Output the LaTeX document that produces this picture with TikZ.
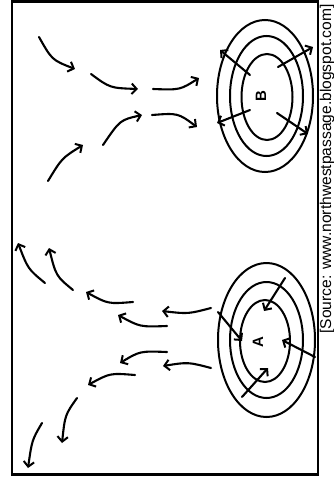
\documentclass[tikz,border=0pt]{standalone}
\usepackage{fontspec}
\setmainfont{Liberation Sans}
\usetikzlibrary{arrows.meta}
\tikzset{
  flow/.style={line width=2.1pt, line cap=round, -{Straight Barb[length=5pt,width=10.5pt,line width=2pt]}},
  ring/.style={line width=2pt},
  frame/.style={line width=2.8pt},
  letter/.style={font=\fontsize{15}{15}\selectfont\bfseries, rotate=90, inner sep=0pt},
  srcnote/.style={font=\fontsize{15.6}{16}\selectfont, rotate=90, inner sep=0pt}
}
\begin{document}
\begin{tikzpicture}[x=1pt,y=-1pt]
\useasboundingbox (0,0) rectangle (334,477);
\fill[white] (0,0) rectangle (334,477);
\draw[frame] (12,1.5) rectangle (318,474.5);

% pressure systems
\coordinate (Bc) at (266,96);
\coordinate (Ac) at (266,341);
\draw[ring] (265,96) ellipse [x radius=48, y radius=76];
\draw[ring] (266.5,96) ellipse [x radius=36.5, y radius=60];
\draw[ring] (267,97) ellipse [x radius=25.5, y radius=43];
\draw[ring] (266.5,340) ellipse [x radius=48.5, y radius=77];
\draw[ring] (266.5,340) ellipse [x radius=36.5, y radius=58];
\draw[ring] (265,341) ellipse [x radius=25, y radius=41];

\node[letter] (B) at (261,96) {B};
\node[letter] (A) at (258,342) {A};

% arrows of B (outward)
\coordinate (b1s) at (250,75);  \coordinate (b1e) at (220,50);
\coordinate (b2s) at (278,67);  \coordinate (b2e) at (313,47);
\coordinate (b3s) at (250,110); \coordinate (b3e) at (217,123);
\coordinate (b4s) at (277,113); \coordinate (b4e) at (308,134);
\draw[flow] (b1s) -- (b1e);
\draw[flow] (b2s) -- (b2e);
\draw[flow] (b3s) -- (b3e);
\draw[flow] (b4s) -- (b4e);

% arrows of A (inward)
\coordinate (a1s) at (285,278); \coordinate (a1e) at (264,311);
\coordinate (a2s) at (218,312); \coordinate (a2e) at (242,341);
\coordinate (a3s) at (315,357); \coordinate (a3e) at (282,340);
\coordinate (a4s) at (242,397); \coordinate (a4e) at (268,368);
\draw[flow] (a1s) -- (a1e);
\draw[flow] (a2s) -- (a2e);
\draw[flow] (a3s) -- (a3e);
\draw[flow] (a4s) -- (a4e);

% flow towards B
\coordinate (fa1) at (39,37);   \coordinate (fa2) at (75,69);
\coordinate (fb1) at (91,74);   \coordinate (fb2) at (138,89);
\coordinate (fc1) at (153,89);  \coordinate (fc2) at (199,78);
\coordinate (fd1) at (152,115); \coordinate (fd2) at (197,127);
\coordinate (fe1) at (103,145); \coordinate (fe2) at (142,115);
\coordinate (ff1) at (48,181);  \coordinate (ff2) at (83,145);
\draw[flow] (fa1) .. controls (52,60) .. (fa2);
\draw[flow] (fb1) .. controls (110,88) .. (fb2);
\draw[flow] (fc1) .. controls (180,90) .. (fc2);
\draw[flow] (fd1) .. controls (178,113) .. (fd2);
\draw[flow] (fe1) .. controls (120,120) .. (fe2);
\draw[flow] (ff1) .. controls (62,158) .. (ff2);

% flow away from A
\coordinate (g1) at (211,308); \coordinate (g2) at (162,311);
\coordinate (h1) at (167,326); \coordinate (h2) at (118,315);
\coordinate (i1) at (133,302); \coordinate (i2) at (86,292);
\coordinate (j1) at (73,290);  \coordinate (j2) at (49,248);
\coordinate (k1) at (45,283);  \coordinate (k2) at (18,243);
\coordinate (l1) at (211,368); \coordinate (l2) at (163,366);
\coordinate (m1) at (167,352); \coordinate (m2) at (120,363);
\coordinate (n1) at (135,375); \coordinate (n2) at (88,385);
\coordinate (o1) at (77,398);  \coordinate (o2) at (62,443);
\coordinate (p1) at (42,423);  \coordinate (p2) at (28,468);
\draw[flow] (g1) .. controls (188,314) .. (g2);
\draw[flow] (h1) .. controls (140,327) .. (h2);
\draw[flow] (i1) .. controls (108,304) .. (i2);
\draw[flow] (j1) .. controls (56,276) .. (j2);
\draw[flow] (k1) .. controls (28,269) .. (k2);
\draw[flow] (l1) .. controls (188,362) .. (l2);
\draw[flow] (m1) .. controls (140,351) .. (m2);
\draw[flow] (n1) .. controls (110,373) .. (n2);
\draw[flow] (o1) .. controls (65,415) .. (o2);
\draw[flow] (p1) .. controls (32,440) .. (p2);

\node[srcnote] (src) at (327,169) {[Source: www.northwestpassage.blogspot.com]};
\end{tikzpicture}
\end{document}
